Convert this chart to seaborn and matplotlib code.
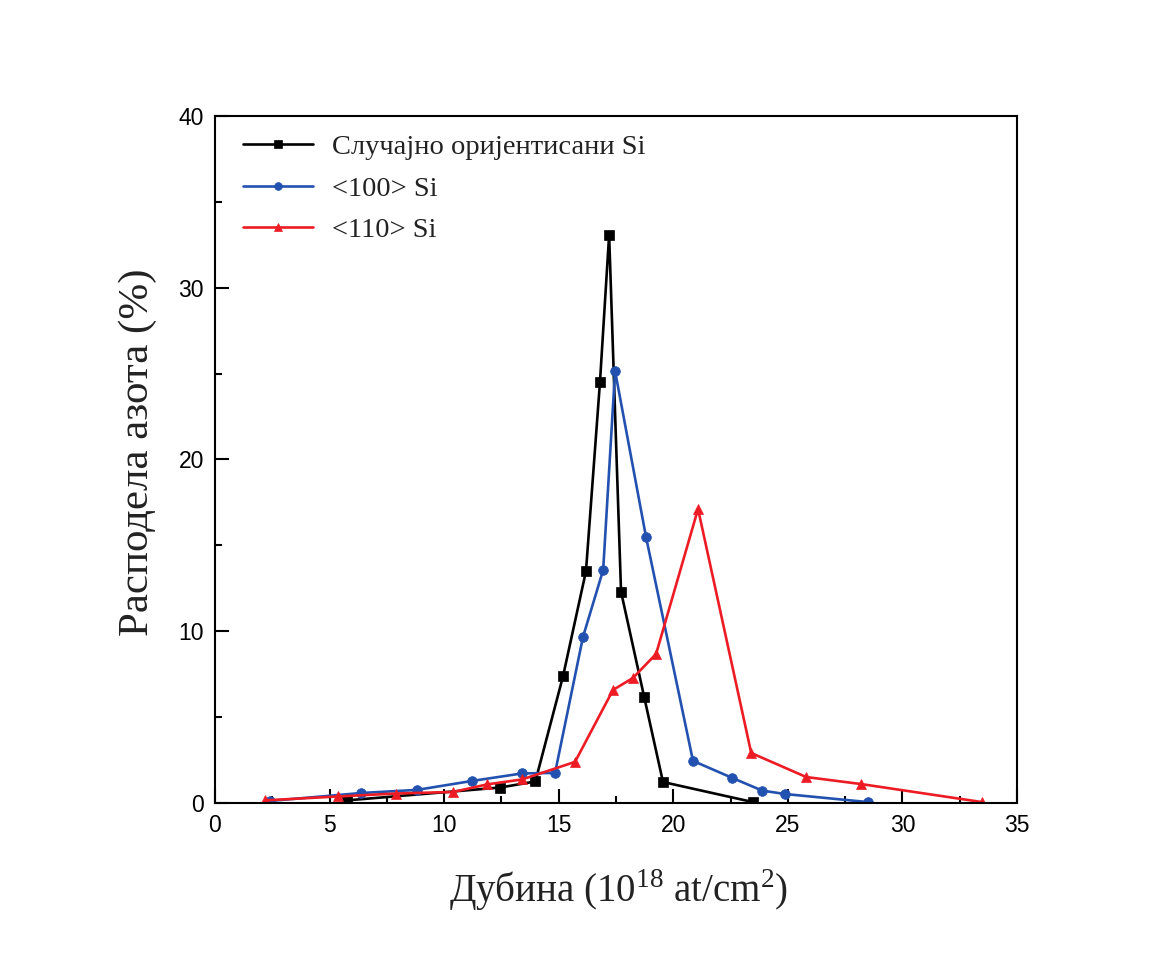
import matplotlib
matplotlib.use("Agg")
import matplotlib.pyplot as plt
import seaborn as sns
import pandas as pd
from matplotlib.ticker import MultipleLocator

# Data
random_x = [5.76, 12.45, 13.98, 15.19, 16.19, 16.80, 17.20, 17.72, 18.73, 19.55, 23.48]
random_y = [0.15, 0.90, 1.25, 7.39, 13.50, 24.50, 33.07, 12.30, 6.17, 1.22, 0.05]

si100_x = [2.42, 6.38, 8.81, 11.21, 13.40, 14.84, 16.06, 16.94, 17.46, 18.81, 20.86, 22.57, 23.88, 24.88, 28.50]
si100_y = [0.12, 0.58, 0.76, 1.28, 1.72, 1.75, 9.67, 13.57, 25.15, 15.49, 2.45, 1.46, 0.72, 0.52, 0.05]

si110_x = [2.18, 5.39, 7.90, 10.39, 11.87, 13.40, 15.71, 17.37, 18.24, 19.25, 21.08, 23.40, 25.80, 28.20, 33.48]
si110_y = [0.15, 0.38, 0.55, 0.64, 1.08, 1.37, 2.39, 6.58, 7.28, 8.68, 17.12, 2.91, 1.51, 1.10, 0.05]

labels = ["Случајно оријентисани Si", "<100> Si", "<110> Si"]
x_label = "Дубина (10$^{18}$ at/cm$^{2}$)"
y_label = "Расподела азота (%)"

sns.set_style("ticks")
plt.rcParams["font.family"] = ["Liberation Sans", "DejaVu Sans"]
plt.rcParams["mathtext.fontset"] = "custom"
plt.rcParams["mathtext.rm"] = "Liberation Serif"

fig = plt.figure(figsize=(11.67, 9.55), dpi=100)
ax = fig.add_axes([0.1842, 0.1592, 0.6873, 0.7193])

series = [
    (random_x, random_y, labels[0], "black", "s", 6.5),
    (si100_x, si100_y, labels[1], "#2351B0", "o", 7),
    (si110_x, si110_y, labels[2], "#ED1C24", "^", 7.5),
]
for xs, ys, lab, col, mk, ms in series:
    df = pd.DataFrame({"x": xs, "y": ys})
    sns.lineplot(data=df, x="x", y="y", ax=ax, sort=False, color=col,
                 marker=mk, markersize=ms, markeredgewidth=0.5,
                 markeredgecolor=col, linewidth=1.9, label=lab)

ax.set_xlim(0, 35)
ax.set_ylim(0, 40)
ax.xaxis.set_major_locator(MultipleLocator(5))
ax.xaxis.set_minor_locator(MultipleLocator(2.5))
ax.yaxis.set_major_locator(MultipleLocator(10))
ax.yaxis.set_minor_locator(MultipleLocator(5))
ax.tick_params(which="both", direction="in", width=1.5, labelsize=16.5, pad=8,
               color="black", labelcolor="black")
ax.tick_params(which="major", length=10)
ax.tick_params(which="minor", length=5)
for s in ax.spines.values():
    s.set_linewidth(1.5)
    s.set_color("black")

ax.set_xlabel(x_label, fontsize=28, family=["Liberation Serif"], color="#222222")
ax.set_ylabel(y_label, fontsize=31, family=["Liberation Serif"], color="#222222")
ax.xaxis.set_label_coords(0.503, -0.093)
ax.yaxis.set_label_coords(-0.072, 0.511)

leg = ax.legend(loc="upper left", bbox_to_anchor=(0.021, 0.99), borderaxespad=0,
                frameon=False, prop={"family": "Liberation Serif", "size": 20.5},
                handlelength=2.46, handletextpad=0.67, labelspacing=0.55,
                markerscale=0.8)
for t in leg.get_texts():
    t.set_color("#222222")

fig.savefig("out.png", dpi=100, facecolor="white")
